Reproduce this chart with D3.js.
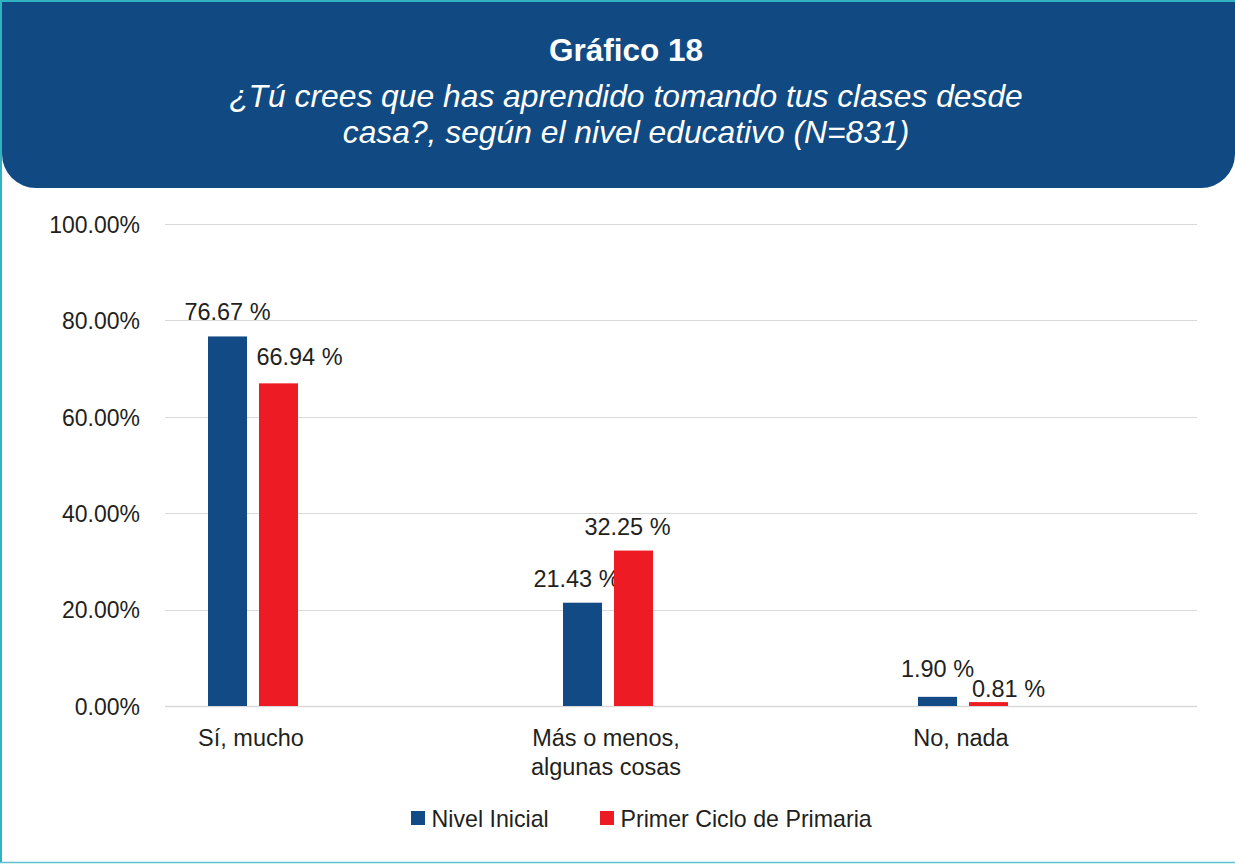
<!DOCTYPE html>
<html><head><meta charset="utf-8">
<script src="https://cdn.jsdelivr.net/npm/d3@7"></script>
<style>html,body{margin:0;padding:0;background:#fff;}svg{display:block;font-family:"Liberation Sans",Arial,sans-serif;}</style>
</head><body>
<svg id="c" width="1235" height="864"></svg>
<script>
const categories = [["Sí, mucho"], ["Más o menos,", "algunas cosas"], ["No, nada"]];
const seriesNames = ["Nivel Inicial", "Primer Ciclo de Primaria"];
const nivelInicial = [76.67, 21.43, 1.90];
const primerCiclo = [66.94, 32.25, 0.81];
const yTicks = [0, 20, 40, 60, 80, 100];
const colors = ["#114a84", "#ed1c24"];
const titleLines = ["Gráfico 18", "¿Tú crees que has aprendido tomando tus clases desde", "casa?, según el nivel educativo (N=831)"];

const svg = d3.select("#c");
const textColor = "#231f20";

// frame
svg.append("rect").attr("x",0).attr("y",0).attr("width",1235).attr("height",864).attr("fill","#fff");
// header with rounded bottom corners
const hx0=2, hy0=2, hx1=1235, hy1=188, r=34;
svg.append("path").attr("fill","#114a82")
  .attr("d",`M${hx0},${hy0}H${hx1}V${hy1-r}A${r},${r} 0 0 1 ${hx1-r},${hy1}H${hx0+r}A${r},${r} 0 0 1 ${hx0},${hy1-r}Z`);
svg.append("line").attr("x1",0).attr("x2",1235).attr("y1",1).attr("y2",1).attr("stroke","#2fb3c1").attr("stroke-width",2);
svg.append("line").attr("x1",1).attr("x2",1).attr("y1",0).attr("y2",863).attr("stroke","#2fb3c1").attr("stroke-width",2);
svg.append("line").attr("x1",0).attr("x2",1235).attr("y1",862.5).attr("y2",862.5).attr("stroke","#5cc3cd").attr("stroke-width",1.5);

svg.append("text").attr("x",626).attr("y",61).attr("text-anchor","middle").attr("fill","#fff")
  .attr("font-weight","bold").attr("font-size",31.5).text(titleLines[0]);
svg.append("text").attr("x",626).attr("y",107).attr("text-anchor","middle").attr("fill","#fff")
  .attr("font-style","italic").attr("font-size",31.8).text(titleLines[1]);
svg.append("text").attr("x",626).attr("y",143).attr("text-anchor","middle").attr("fill","#fff")
  .attr("font-style","italic").attr("font-size",31.8).text(titleLines[2]);

// scales
const y = d3.scaleLinear().domain([0,100]).range([706,224]);
const x = d3.scaleBand().domain(d3.range(categories.length)).range([75.5,1140.5]).padding(0);
const xs = d3.scaleBand().domain([0,1]).range([-45,45]).paddingInner(0.235).paddingOuter(0);
const gridX0 = 165, gridX1 = 1197;

// gridlines
svg.append("g").selectAll("line").data(yTicks).join("line")
  .attr("x1",gridX0).attr("x2",gridX1).attr("y1",d=>Math.round(y(d))+0.5).attr("y2",d=>Math.round(y(d))+0.5)
  .attr("stroke","#d9d9d9").attr("stroke-width",d=>d===0?1.5:1);

// y axis labels
const yAxis = d3.axisLeft(y).tickValues(yTicks).tickFormat(d=>d.toFixed(2)+"%").tickSize(0).tickPadding(0);
const gy = svg.append("g").attr("transform","translate(140,0)").call(yAxis);
gy.select(".domain").remove();
gy.selectAll("text").attr("font-size",23).attr("fill",textColor).attr("font-family","Liberation Sans, Arial, sans-serif").attr("dy","0.36em");

// bars
const series = [nivelInicial, primerCiclo];
const labelDx = [[0,-6,0],[21,-6,20]];
const labelDy = [[-16,-16,-20],[-18,-16,-5]];
series.forEach((vals,si)=>{
  const g = svg.append("g");
  g.selectAll("rect").data(vals).join("rect")
    .attr("x",(d,i)=>x(i)+x.bandwidth()/2+xs(si))
    .attr("width",xs.bandwidth())
    .attr("y",d=>y(d)).attr("height",d=>y(0)-y(d))
    .attr("fill",colors[si]);
  g.selectAll("text").data(vals).join("text")
    .attr("x",(d,i)=>x(i)+x.bandwidth()/2+xs(si)+xs.bandwidth()/2+labelDx[si][i])
    .attr("y",(d,i)=>y(d)+labelDy[si][i])
    .attr("text-anchor","middle").attr("font-size",23.5).attr("fill",textColor)
    .text(d=>d.toFixed(2)+" %");
});

// category labels
const gc = svg.append("g");
categories.forEach((lines,i)=>{
  const t = gc.append("text").attr("x",x(i)+x.bandwidth()/2-2).attr("y",746)
    .attr("text-anchor","middle").attr("font-size",23.5).attr("fill",textColor);
  lines.forEach((l,j)=>t.append("tspan").attr("x",x(i)+x.bandwidth()/2-2).attr("dy",j===0?0:29).text(l));
});

// legend
const legX = [411, 600];
const lg = svg.append("g");
seriesNames.forEach((n,i)=>{
  lg.append("rect").attr("x",legX[i]).attr("y",811).attr("width",14).attr("height",14).attr("fill",colors[i]);
  lg.append("text").attr("x",legX[i]+20.5).attr("y",827).attr("font-size",23.2).attr("fill",textColor).text(n);
});
</script>
</body></html>
